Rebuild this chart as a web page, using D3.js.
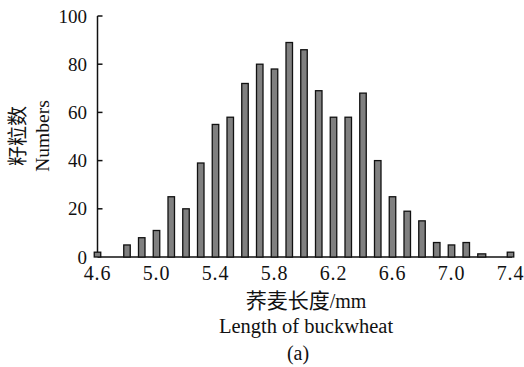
<!DOCTYPE html>
<html>
<head>
<meta charset="utf-8">
<script src="https://cdn.jsdelivr.net/npm/d3@7"></script>
<style>
  html, body { margin: 0; padding: 0; background: #fff; }
  svg { display: block; }
  text { font-family: "Liberation Serif", "DejaVu Serif", serif; fill: #111; }
  .cjk { font-family: "Noto Sans CJK SC", sans-serif; }
</style>
</head>
<body>
<svg id="chart" width="524" height="367"></svg>
<script>
// grain length classes (mm) and counts
const lengths = [4.6, 4.8, 4.9, 5.0, 5.1, 5.2, 5.3, 5.4, 5.5, 5.6, 5.7, 5.8, 5.9, 6.0,
  6.1, 6.2, 6.3, 6.4, 6.5, 6.6, 6.7, 6.8, 6.9, 7.0, 7.1, 7.2, 7.4];
const counts = [2, 5, 8, 11, 25, 20, 39, 55, 58, 72, 80, 78, 89, 86,
  69, 58, 58, 68, 40, 25, 19, 15, 6, 5, 6, 1.3, 2];
const xTicks = [4.6, 5.0, 5.4, 5.8, 6.2, 6.6, 7.0, 7.4];
const yTicks = [0, 20, 40, 60, 80, 100];

const svg = d3.select('#chart');

const x = d3.scaleLinear().domain([4.6, 7.4]).range([97.5, 510.5]);
const y = d3.scaleLinear().domain([0, 100]).range([257, 16]);

// axes (ticks point inward)
const axis = svg.append('g').attr('stroke', '#111').attr('stroke-width', 1.5);
axis.append('line')
  .attr('x1', x(4.6)).attr('x2', 512)
  .attr('y1', y(0)).attr('y2', y(0));
axis.append('line')
  .attr('x1', x(4.6)).attr('x2', x(4.6))
  .attr('y1', y(0)).attr('y2', y(100));
axis.selectAll('.yt')
  .data(yTicks.slice(1))
  .enter()
  .append('line')
  .attr('x1', x(4.6)).attr('x2', x(4.6) + 5)
  .attr('y1', d => y(d)).attr('y2', d => y(d));
axis.selectAll('.xt')
  .data(xTicks.slice(1, -1))
  .enter()
  .append('line')
  .attr('x1', d => x(d)).attr('x2', d => x(d))
  .attr('y1', y(0)).attr('y2', y(0) - 4);

// bars
const bw = 6.5;
svg.append('g')
  .selectAll('rect')
  .data(lengths)
  .enter()
  .append('rect')
  .attr('x', d => x(d) - bw / 2)
  .attr('y', (d, i) => y(counts[i]))
  .attr('width', (d, i) => d === 7.2 ? 8 : bw)
  .attr('height', (d, i) => y(0) - y(counts[i]))
  .attr('fill', '#808080')
  .attr('stroke', '#111')
  .attr('stroke-width', 1.3);

// tick labels
svg.append('g')
  .selectAll('text')
  .data(yTicks)
  .enter()
  .append('text')
  .attr('x', 87)
  .attr('y', d => y(d) + 6.5)
  .attr('text-anchor', 'end')
  .attr('font-size', 19)
  .text(d => d);

svg.append('g')
  .selectAll('text')
  .data(xTicks)
  .enter()
  .append('text')
  .attr('x', d => x(d))
  .attr('y', 280)
  .attr('text-anchor', 'middle')
  .attr('font-size', 20)
  .attr('letter-spacing', 0.8)
  .text(d => d.toFixed(1));

// axis titles
const yl = svg.append('g').attr('transform', 'translate(0,136) rotate(-90)');
yl.append('text').attr('class', 'cjk')
  .attr('x', 0).attr('y', 25)
  .attr('text-anchor', 'middle')
  .attr('font-size', 20)
  .text('籽粒数');
yl.append('text')
  .attr('x', 0).attr('y', 49)
  .attr('text-anchor', 'middle')
  .attr('font-size', 19.5)
  .text('Numbers');

const xl = svg.append('text')
  .attr('x', 306).attr('y', 308)
  .attr('text-anchor', 'middle')
  .attr('font-size', 20);
xl.append('tspan').attr('class', 'cjk').attr('font-size', 21).text('荞麦长度');
xl.append('tspan').text('/mm');

svg.append('text')
  .attr('x', 306).attr('y', 333)
  .attr('text-anchor', 'middle')
  .attr('font-size', 20.5)
  .text('Length of buckwheat');

svg.append('text')
  .attr('x', 298).attr('y', 360)
  .attr('text-anchor', 'middle')
  .attr('font-size', 20)
  .text('(a)');
</script>
</body>
</html>
